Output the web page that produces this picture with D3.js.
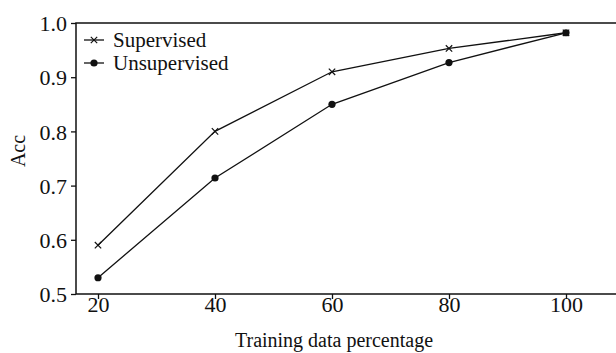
<!DOCTYPE html>
<html>
<head>
<meta charset="utf-8">
<script src="https://cdn.jsdelivr.net/npm/d3@7"></script>
<style>
  body { margin: 0; background: #fff; }
  text { font-family: "Liberation Serif", "Times New Roman", serif; fill: #111; }
</style>
</head>
<body>
<svg class="chart"></svg>
<script>
// data
var percentages = [20, 40, 60, 80, 100];
var supervised = [0.59, 0.80, 0.91, 0.953, 0.982];
var unsupervised = [0.53, 0.714, 0.85, 0.927, 0.982];
var yTicks = [0.5, 0.6, 0.7, 0.8, 0.9, 1.0];

var svgWidth = 616;
var svgHeight = 353;

var svg = d3.select('.chart')
  .attr('width', svgWidth)
  .attr('height', svgHeight);

var plotLeft = 76, plotRight = 616, plotTop = 23, plotBottom = 294;

var xScale = d3.scaleLinear()
  .domain([20, 100])
  .range([98, 566]);

var yScale = d3.scaleLinear()
  .domain([0.5, 1.0])
  .range([plotBottom, plotTop]);

// axes
var xAxis = d3.axisBottom(xScale)
  .tickValues(percentages)
  .tickSize(5)
  .tickSizeOuter(0);

var yAxis = d3.axisLeft(yScale)
  .tickValues(yTicks)
  .tickFormat(d3.format('.1f'))
  .tickSize(5)
  .tickSizeOuter(0);

var gx = svg.append('g')
  .attr('transform', 'translate(0,' + plotBottom + ')')
  .call(xAxis);
gx.select('.domain').remove();
gx.selectAll('text')
  .attr('y', 1)
  .attr('dy', '0.75em')
  .style('font-size', '22px')
  .style('font-family', '"Liberation Serif", serif');

var gy = svg.append('g')
  .attr('transform', 'translate(' + plotLeft + ',0)')
  .call(yAxis);
gy.select('.domain').remove();
gy.selectAll('text')
  .attr('dy', '0.35em')
  .attr('x', -9)
  .style('font-size', '22px')
  .style('font-family', '"Liberation Serif", serif');

svg.selectAll('.tick line').attr('stroke', '#111').attr('stroke-width', 1.3);

// frame: left, bottom, top
svg.append('path')
  .attr('d', 'M' + plotRight + ',' + plotTop + 'H' + plotLeft + 'V' + plotBottom + 'H' + plotRight)
  .attr('fill', 'none')
  .attr('stroke', '#111')
  .attr('stroke-width', 1.5);

// axis titles
svg.append('text')
  .attr('x', 334)
  .attr('y', 347)
  .attr('text-anchor', 'middle')
  .style('font-size', '20px')
  .text('Training data percentage');

svg.append('text')
  .attr('transform', 'translate(25,151) rotate(-90)')
  .attr('text-anchor', 'middle')
  .style('font-size', '20px')
  .text('Acc');

// lines
var line = d3.line()
  .x(function(d, i) { return xScale(percentages[i]); })
  .y(function(d) { return yScale(d); });

function drawCross(g, x, y, s) {
  g.append('path')
    .attr('d', 'M' + (x - s) + ',' + (y - s) + 'L' + (x + s) + ',' + (y + s) +
               'M' + (x - s) + ',' + (y + s) + 'L' + (x + s) + ',' + (y - s))
    .attr('stroke', '#111')
    .attr('stroke-width', 1.2);
}

[supervised, unsupervised].forEach(function(series) {
  svg.append('path')
    .attr('d', line(series))
    .attr('fill', 'none')
    .attr('stroke', '#111')
    .attr('stroke-width', 1.3);
});

var marks = svg.append('g');
supervised.forEach(function(d, i) {
  drawCross(marks, xScale(percentages[i]), yScale(d), 3.2);
});
marks.selectAll('circle')
  .data(unsupervised)
  .enter()
  .append('circle')
  .attr('cx', function(d, i) { return xScale(percentages[i]); })
  .attr('cy', function(d) { return yScale(d); })
  .attr('r', 3.6)
  .attr('fill', '#111');

// legend
var legend = svg.append('g');
var legendItems = [
  { name: 'Supervised', y: 40, type: 'cross' },
  { name: 'Unsupervised', y: 63, type: 'dot' }
];
legendItems.forEach(function(item) {
  legend.append('line')
    .attr('x1', 84).attr('x2', 104)
    .attr('y1', item.y).attr('y2', item.y)
    .attr('stroke', '#111')
    .attr('stroke-width', 1.3);
  if (item.type === 'cross') {
    drawCross(legend, 94, item.y, 3.2);
  } else {
    legend.append('circle').attr('cx', 94).attr('cy', item.y).attr('r', 3.6).attr('fill', '#111');
  }
  legend.append('text')
    .attr('x', 113)
    .attr('y', item.y)
    .attr('dy', '0.35em')
    .style('font-size', '21px')
    .text(item.name);
});
</script>
</body>
</html>
